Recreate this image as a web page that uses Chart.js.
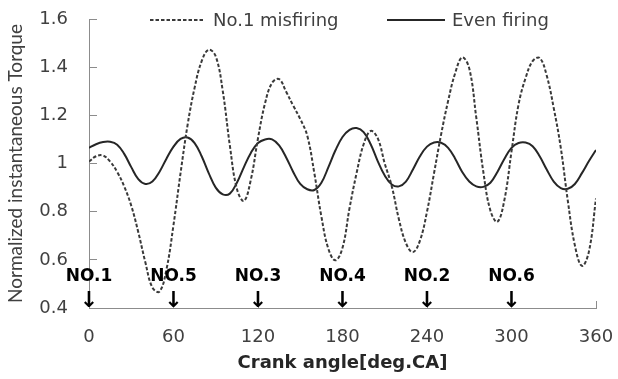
<!DOCTYPE html>
<html>
<head>
<meta charset="utf-8">
<script src="https://cdn.jsdelivr.net/npm/chart.js@4.4.1/dist/chart.umd.min.js"></script>
<style>
  html, body { margin: 0; padding: 0; background: #ffffff; }
  canvas { display: block; }
</style>
</head>
<body>
<canvas id="torque" width="618" height="379"></canvas>
<script>
// Crank angle samples [deg.CA]
const crankAngles = [
  0, 5, 10, 15, 20, 25, 30, 35, 40, 45, 50, 55,
  60, 65, 70, 75, 80, 85, 90, 95, 100, 105, 110, 115,
  120, 125, 130, 135, 140, 145, 150, 155, 160, 165, 170, 175,
  180, 185, 190, 195, 200, 205, 210, 215, 220, 225, 230, 235,
  240, 245, 250, 255, 260, 265, 270, 275, 280, 285, 290, 295,
  300, 305, 310, 315, 320, 325, 330, 335, 340, 345, 350, 355,
  360
];

// Normalized instantaneous torque, cylinder No.1 misfiring
const misfiring = [
  1.008, 1.030, 1.033, 1.008, 0.965, 0.905, 0.825, 0.715, 0.590, 0.485, 0.468, 0.560,
  0.745, 0.960, 1.160, 1.315, 1.425, 1.472, 1.445, 1.300, 1.075, 0.895, 0.845, 0.935,
  1.105, 1.250, 1.335, 1.350, 1.298, 1.240, 1.185, 1.115, 0.960, 0.780, 0.645, 0.598,
  0.650, 0.815, 0.960, 1.080, 1.135, 1.105, 1.000, 0.905, 0.770, 0.670, 0.632, 0.680,
  0.800, 0.960, 1.120, 1.260, 1.375, 1.440, 1.395, 1.190, 0.965, 0.805, 0.758, 0.850,
  1.050, 1.245, 1.355, 1.425, 1.438, 1.365, 1.230, 1.065, 0.845, 0.660, 0.575, 0.635,
  0.855
];

// Normalized instantaneous torque, even firing
const evenFiring = [
  1.065, 1.080, 1.089, 1.090, 1.078, 1.040, 0.985, 0.935, 0.915, 0.925, 0.965, 1.020,
  1.070, 1.102, 1.108, 1.085, 1.030, 0.960, 0.900, 0.872, 0.875, 0.920, 0.985, 1.045,
  1.085, 1.100, 1.100, 1.075, 1.025, 0.965, 0.915, 0.893, 0.890, 0.920, 0.985, 1.055,
  1.110, 1.140, 1.147, 1.130, 1.080, 1.010, 0.950, 0.913, 0.905, 0.925, 0.975, 1.030,
  1.070, 1.087, 1.086, 1.065, 1.020, 0.965, 0.925, 0.905, 0.903, 0.920, 0.965, 1.020,
  1.065, 1.085, 1.087, 1.072, 1.030, 0.975, 0.925, 0.898, 0.895, 0.915, 0.960, 1.010,
  1.056
];

const xTickValues = [0, 60, 120, 180, 240, 300, 360];
const yTickValues = [0.4, 0.6, 0.8, 1, 1.2, 1.4, 1.6];
const yTickLabels = ['0.4', '0.6', '0.8', '1', '1.2', '1.4', '1.6'];

// Firing order markers along the crank angle axis
const firingAngles = [0, 60, 120, 180, 240, 300];
const cylinderNames = ['NO.1', 'NO.5', 'NO.3', 'NO.4', 'NO.2', 'NO.6'];

const seriesLabels = ['No.1 misfiring', 'Even firing'];

const AXIS_GREY = '#8c8c8c';
const TEXT_GREY = '#404040';

const toPoints = (vals) => crankAngles.map((a, i) => ({ x: a, y: vals[i] }));

// Line key above the plot, drawn from the dataset styles
const lineKey = {
  id: 'lineKey',
  afterDraw(chart) {
    const { ctx } = chart;
    const items = [
      { ds: chart.data.datasets[0], x0: 150, x1: 204, tx: 213 },
      { ds: chart.data.datasets[1], x0: 387, x1: 445, tx: 452 }
    ];
    const y = 20;
    ctx.save();
    items.forEach(it => {
      ctx.strokeStyle = it.ds.borderColor;
      ctx.lineWidth = it.ds.borderWidth;
      ctx.setLineDash(it.ds.borderDash || []);
      ctx.beginPath();
      ctx.moveTo(it.x0, y);
      ctx.lineTo(it.x1, y);
      ctx.stroke();
      ctx.setLineDash([]);
      ctx.fillStyle = TEXT_GREY;
      ctx.font = '18px "DejaVu Sans"';
      ctx.textAlign = 'left';
      ctx.textBaseline = 'middle';
      ctx.fillText(it.ds.label, it.tx, y + 1);
    });
    ctx.restore();
  }
};

// Cylinder firing labels with arrows pointing at the axis
const firingMarks = {
  id: 'firingMarks',
  afterDatasetsDraw(chart) {
    const { ctx } = chart;
    const xs = chart.scales.x;
    const base = chart.chartArea.bottom;
    ctx.save();
    ctx.fillStyle = '#000000';
    ctx.textAlign = 'center';
    firingAngles.forEach((a, i) => {
      const px = xs.getPixelForValue(a);
      ctx.font = 'bold 17px "DejaVu Sans"';
      ctx.textBaseline = 'middle';
      ctx.fillText(cylinderNames[i], px, base - 31);
      ctx.font = 'bold 22px "DejaVu Sans"';
      ctx.textBaseline = 'bottom';
      ctx.fillText('\u2193', px, base + 4);
    });
    ctx.restore();
  }
};

new Chart(document.getElementById('torque'), {
  type: 'line',
  data: {
    datasets: [
      {
        label: seriesLabels[0],
        data: toPoints(misfiring),
        borderColor: '#3a3a3a',
        borderWidth: 2,
        borderDash: [3.5, 2],
        pointRadius: 0,
        tension: 0.4,
        fill: false
      },
      {
        label: seriesLabels[1],
        data: toPoints(evenFiring),
        borderColor: '#262626',
        borderWidth: 2,
        pointRadius: 0,
        tension: 0.4,
        fill: false
      }
    ]
  },
  options: {
    responsive: false,
    animation: false,
    devicePixelRatio: 1,
    layout: { padding: { top: 19, right: 22, left: 0, bottom: 0 } },
    plugins: {
      legend: { display: false },
      tooltip: { enabled: false }
    },
    scales: {
      x: {
        type: 'linear',
        min: 0,
        max: 360,
        afterBuildTicks: (s) => { s.ticks = xTickValues.map(v => ({ value: v })); },
        afterFit: (s) => { s.height = 71; s.paddingLeft = 0; s.paddingRight = 0; },
        grid: { drawOnChartArea: false, drawTicks: true, tickLength: -7, color: AXIS_GREY },
        border: { color: AXIS_GREY, width: 1 },
        ticks: {
          color: TEXT_GREY,
          font: { family: 'DejaVu Sans', size: 18 },
          padding: 26,
          maxRotation: 0,
          callback: (v) => String(v)
        },
        title: {
          display: true,
          text: 'Crank angle[deg.CA]',
          color: '#262626',
          font: { family: 'DejaVu Sans', size: 18, weight: 'bold' },
          padding: { top: 0, bottom: 5 }
        }
      },
      y: {
        type: 'linear',
        min: 0.4,
        max: 1.6,
        afterBuildTicks: (s) => { s.ticks = yTickValues.map(v => ({ value: v })); },
        afterFit: (s) => { s.width = 89; s.paddingTop = 0; s.paddingBottom = 0; },
        grid: { drawOnChartArea: false, drawTicks: true, tickLength: -8, color: AXIS_GREY },
        border: { color: AXIS_GREY, width: 1 },
        ticks: {
          color: TEXT_GREY,
          font: { family: 'DejaVu Sans', size: 18 },
          padding: 29,
          callback: (v, i) => yTickLabels[i]
        },
        title: {
          display: true,
          text: 'Normalized instantaneous Torque',
          color: TEXT_GREY,
          font: { family: 'Lato', size: 19 },
          padding: { top: 4, bottom: 0 }
        }
      }
    }
  },
  plugins: [firingMarks, lineKey]
});
</script>
</body>
</html>
